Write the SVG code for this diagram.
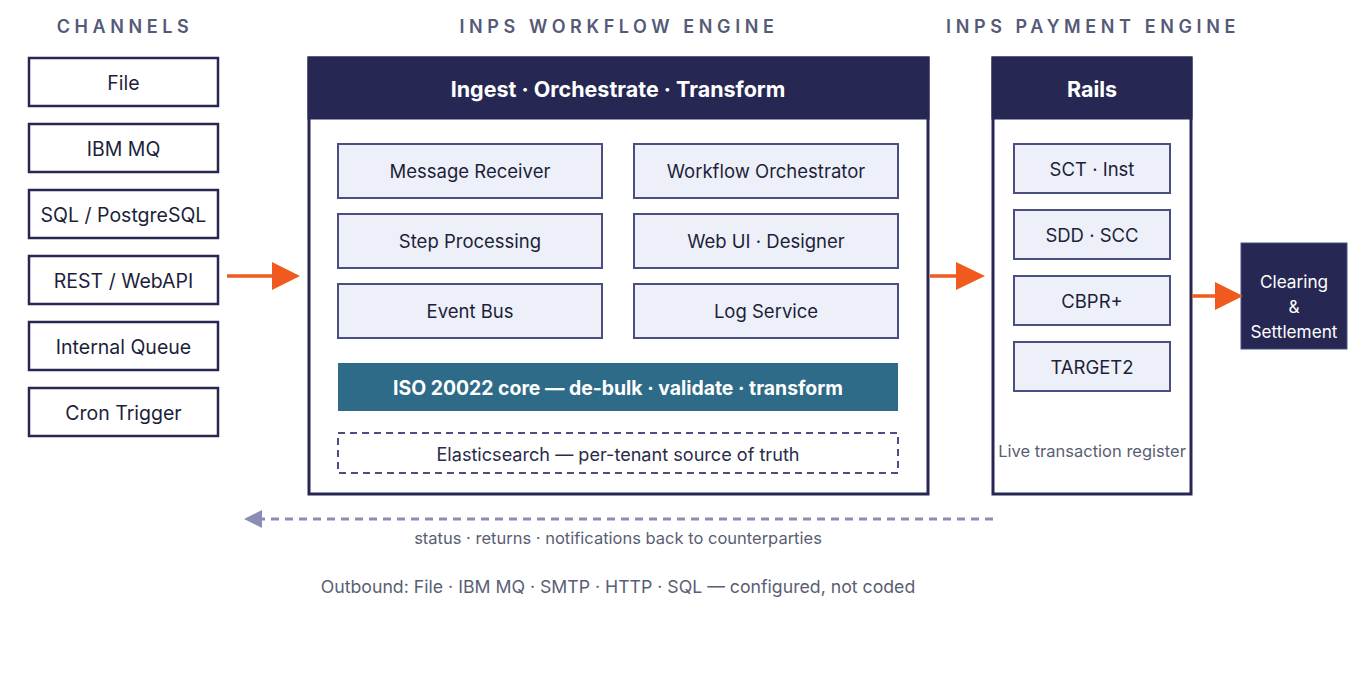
<svg xmlns="http://www.w3.org/2000/svg" width="1360" height="680" viewBox="0 0 1360 680">
<defs>
<style>
text{font-family:Inter,"Noto Sans","Liberation Sans",sans-serif;}
.hdr{font-size:18px;font-weight:600;fill:#555a78;letter-spacing:4.6px;text-anchor:middle;}
.ch rect{fill:#ffffff;stroke:#262853;stroke-width:2.5;}
.ch text{font-size:19.5px;fill:#1d1f3a;text-anchor:middle;}
.frame{fill:#ffffff;stroke:#262853;stroke-width:3;}
.band{fill:#262853;}
.title{font-size:21.5px;font-weight:700;fill:#ffffff;text-anchor:middle;}
.mod rect{fill:#edf0f8;stroke:#4b4e80;stroke-width:2;}
.mod text{font-size:18.5px;fill:#1d1f3a;text-anchor:middle;}
.arrow{stroke:#f05a1e;stroke-width:3.5;fill:none;}
.head{fill:#f05a1e;}
.note{font-size:16.5px;fill:#5a5e74;text-anchor:middle;}
</style>
</defs>
<rect width="1360" height="680" fill="#ffffff"/>
<text class="hdr" x="125" y="33">CHANNELS</text>
<text class="hdr" x="619" y="33">INPS WORKFLOW ENGINE</text>
<text class="hdr" x="1093" y="33">INPS PAYMENT ENGINE</text>

<g id="ch-file" class="ch"><rect x="29" y="58" width="189" height="48"/><text x="123.5" y="90">File</text></g>
<g id="ch-ibmmq" class="ch"><rect x="29" y="124" width="189" height="48"/><text x="123.5" y="156">IBM MQ</text></g>
<g id="ch-sql" class="ch"><rect x="29" y="190" width="189" height="48"/><text x="123.5" y="222">SQL / PostgreSQL</text></g>
<g id="ch-rest" class="ch"><rect x="29" y="256" width="189" height="48"/><text x="123.5" y="288">REST / WebAPI</text></g>
<g id="ch-queue" class="ch"><rect x="29" y="322" width="189" height="48"/><text x="123.5" y="354">Internal Queue</text></g>
<g id="ch-cron" class="ch"><rect x="29" y="388" width="189" height="48"/><text x="123.5" y="420">Cron Trigger</text></g>

<g id="workflow-engine">
<rect class="frame" x="309" y="58" width="619" height="436"/>
<rect class="band" x="307.5" y="56.5" width="622" height="63"/>
<text class="title" x="618" y="97">Ingest · Orchestrate · Transform</text>
</g>
<g id="mod-receiver" class="mod"><rect x="338" y="144" width="264" height="54"/><text x="470" y="177.5">Message Receiver</text></g>
<g id="mod-orchestrator" class="mod"><rect x="634" y="144" width="264" height="54"/><text x="766" y="177.5">Workflow Orchestrator</text></g>
<g id="mod-step" class="mod"><rect x="338" y="214" width="264" height="54"/><text x="470" y="247.5">Step Processing</text></g>
<g id="mod-webui" class="mod"><rect x="634" y="214" width="264" height="54"/><text x="766" y="247.5">Web UI · Designer</text></g>
<g id="mod-eventbus" class="mod"><rect x="338" y="284" width="264" height="54"/><text x="470" y="317.5">Event Bus</text></g>
<g id="mod-log" class="mod"><rect x="634" y="284" width="264" height="54"/><text x="766" y="317.5">Log Service</text></g>
<g id="iso-core"><rect x="338" y="363" width="560" height="48" fill="#2e6b88"/><text x="618" y="394.5" font-size="19.4" font-weight="700" fill="#ffffff" text-anchor="middle">ISO 20022 core — de-bulk · validate · transform</text></g>
<g id="elastic"><rect x="338" y="433" width="560" height="40" fill="#ffffff" stroke="#4b4e80" stroke-width="2" stroke-dasharray="7,5"/><text x="618" y="460.5" font-size="18.1" fill="#2a2c48" text-anchor="middle">Elasticsearch — per-tenant source of truth</text></g>

<g id="payment-engine">
<rect class="frame" x="993" y="58" width="198" height="436"/>
<rect class="band" x="991.5" y="56.5" width="201" height="63"/>
<text class="title" x="1092" y="97">Rails</text>
<text x="1092" y="457" font-size="16.5" fill="#5a5e74" text-anchor="middle">Live transaction register</text>
</g>
<g id="rail-sct" class="mod"><rect x="1014" y="144" width="156" height="49"/><text x="1092" y="175.5">SCT · Inst</text></g>
<g id="rail-sdd" class="mod"><rect x="1014" y="210" width="156" height="49"/><text x="1092" y="241.5">SDD · SCC</text></g>
<g id="rail-cbpr" class="mod"><rect x="1014" y="276" width="156" height="49"/><text x="1092" y="307.5">CBPR+</text></g>
<g id="rail-target2" class="mod"><rect x="1014" y="342" width="156" height="49"/><text x="1092" y="373.5">TARGET2</text></g>

<g id="clearing">
<rect x="1241" y="243" width="106" height="106" fill="#262853" stroke="#4b4e80" stroke-width="1"/>
<text x="1294" y="288" font-size="17.2" fill="#ffffff" text-anchor="middle">Clearing</text>
<text x="1294" y="313" font-size="17.2" fill="#ffffff" text-anchor="middle">&amp;</text>
<text x="1294" y="338" font-size="17.2" fill="#ffffff" text-anchor="middle">Settlement</text>
</g>

<g id="connectors">
<line class="arrow" x1="227" y1="276" x2="274" y2="276"/>
<polygon class="head" points="272,262 300,276 272,290"/>
<line class="arrow" x1="930" y1="276" x2="958" y2="276"/>
<polygon class="head" points="956,262 985,276 956,290"/>
<line class="arrow" x1="1192" y1="296" x2="1217" y2="296"/>
<polygon class="head" points="1215,282 1243,296 1215,310"/>
<line x1="993" y1="519" x2="262" y2="519" stroke="#8a8eb6" stroke-width="3" stroke-dasharray="8,6"/>
<polygon points="244,519 262,510 262,528" fill="#8a8eb6"/>
<text class="note" x="618" y="544">status · returns · notifications back to counterparties</text>
<text x="618" y="593" font-size="17.7" fill="#5a5e74" text-anchor="middle">Outbound: File · IBM MQ · SMTP · HTTP · SQL — configured, not coded</text>
</g>
</svg>
